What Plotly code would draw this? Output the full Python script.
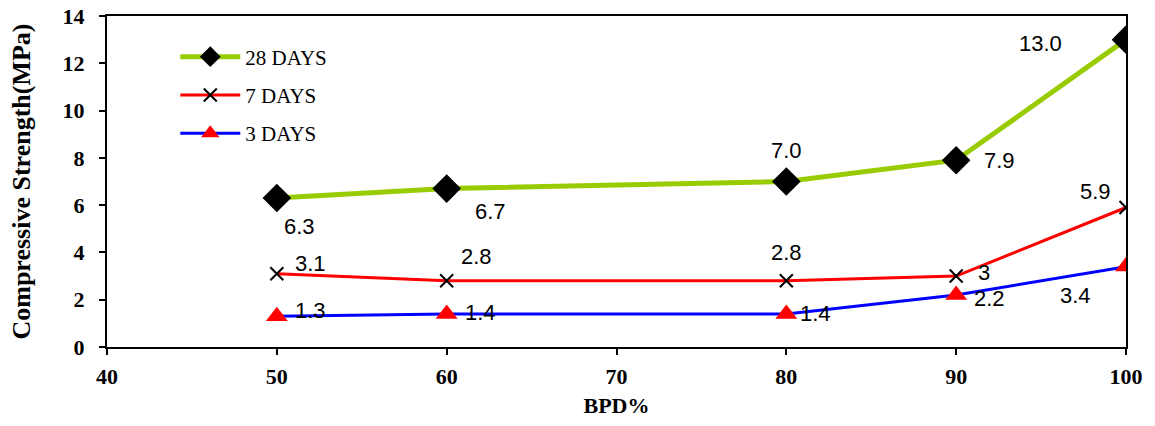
import plotly.graph_objects as go

bpd = [50, 60, 80, 90, 100]
days28 = [6.3, 6.7, 7.0, 7.9, 13.0]
days7 = [3.1, 2.8, 2.8, 3.0, 5.9]
days3 = [1.3, 1.4, 1.4, 2.2, 3.4]
labels28 = ["6.3", "6.7", "7.0", "7.9", "13.0"]
labels7 = ["3.1", "2.8", "2.8", "3", "5.9"]
labels3 = ["1.3", "1.4", "1.4", "2.2", "3.4"]
xticks = [40, 50, 60, 70, 80, 90, 100]
yticks = [0, 2, 4, 6, 8, 10, 12, 14]

# label pixel offsets (style): (xshift, yshift)
off28 = [(23, -28), (44, -23), (0, 31), (43, 0), (-86, -4)]
off7 = [(34, 10), (30, 24), (0, 28), (28, 4), (-31, 16)]
off3 = [(34, 6), (34, 1), (29, 0), (33, -4), (-51, -29)]

fig = go.Figure()
fig.add_trace(go.Scatter(
    x=bpd, y=days28, name="28 DAYS", mode="lines+markers", legendgroup="a",
    line=dict(color="#99cc00", width=5),
    marker=dict(symbol="diamond", color="black", size=22)))
fig.add_trace(go.Scatter(
    x=bpd, y=days7, name="7 DAYS", mode="lines+markers", legendgroup="b",
    line=dict(color="#ff0000", width=3),
    marker=dict(symbol="x-thin-open", color="black", size=13, line=dict(color="black", width=2))))
fig.add_trace(go.Scatter(
    x=bpd, y=days3, name="3 DAYS", mode="lines+markers", legendgroup="c",
    line=dict(color="#0000ff", width=3),
    marker=dict(symbol="triangle-up", color="#ff0000", size=19)))

annots = []
for ys, labs, offs in [(days28, labels28, off28), (days7, labels7, off7), (days3, labels3, off3)]:
    for x, y, t, (dx, dy) in zip(bpd, ys, labs, offs):
        annots.append(dict(x=x, y=y, text=t, showarrow=False, xshift=dx, yshift=dy,
                           font=dict(family="Liberation Sans", size=22, color="black")))

fig.update_layout(
    width=1155, height=426,
    margin=dict(l=107, r=29, t=16, b=79),
    paper_bgcolor="white", plot_bgcolor="white",
    annotations=annots,
    legend=dict(x=0.067, y=0.938, xanchor="left", yanchor="top",
                font=dict(family="Liberation Serif", size=21, color="black"),
                tracegroupgap=8, traceorder="grouped", itemwidth=60,
                bgcolor="rgba(0,0,0,0)"),
    xaxis=dict(range=[40, 100], tickvals=xticks, ticktext=[str(v) for v in xticks],
               automargin=False,
               showgrid=False, zeroline=False, showline=True, linecolor="black", linewidth=2,
               mirror=True, ticks="outside", ticklen=6, tickcolor="black", tickwidth=1.5,
               ticklabelstandoff=3,
               tickfont=dict(family="Liberation Serif", size=22, color="black", weight="bold"),
               title=dict(text="<b>BPD%</b>", standoff=9,
                          font=dict(family="Liberation Serif", size=22, color="black"))),
    yaxis=dict(range=[0, 14], tickvals=yticks, ticktext=[str(v) for v in yticks],
               automargin=False,
               showgrid=False, zeroline=False, showline=True, linecolor="black", linewidth=2,
               mirror=True, ticks="outside", ticklen=6, tickcolor="black", tickwidth=1.5,
               ticklabelstandoff=10,
               tickfont=dict(family="Liberation Serif", size=22, color="black", weight="bold"),
               title=dict(text="<b>Compressive Strength(MPa)</b>", standoff=24,
                          font=dict(family="Liberation Serif", size=26, color="black"))),
)
fig.write_html("out.html", config={"displayModeBar": False},
               post_script="document.body.style.margin='0';")
